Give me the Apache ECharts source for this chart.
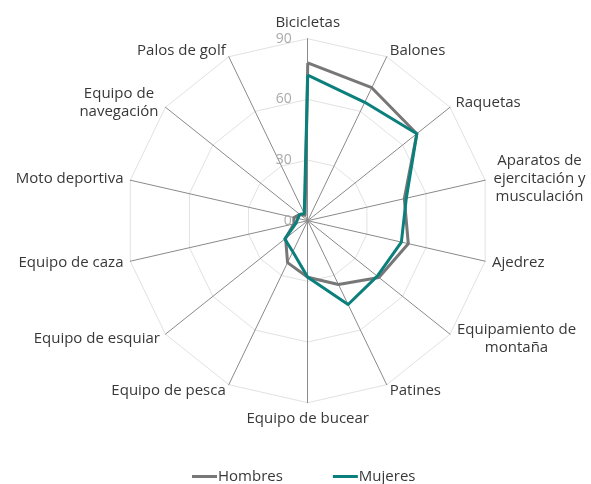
<!DOCTYPE html>
<html>
<head>
<meta charset="utf-8">
<script src="https://cdn.jsdelivr.net/npm/echarts@6/dist/echarts.min.js"></script>
<style>
  html, body { margin: 0; padding: 0; background: #ffffff; }
  #chart { width: 591px; height: 484px; }
</style>
</head>
<body>
<div id="chart"></div>
<script>
// Categories in clockwise order, starting at the top
const categories = [
  'Bicicletas',
  'Balones',
  'Raquetas',
  'Aparatos de\nejercitación y\nmusculación',
  'Ajedrez',
  'Equipamiento de\nmontaña',
  'Patines',
  'Equipo de bucear',
  'Equipo de pesca',
  'Equipo de esquiar',
  'Equipo de caza',
  'Moto deportiva',
  'Equipo de\nnavegación',
  'Palos de golf'
];
const hombres = [78, 73, 69, 49, 51, 45, 35, 28, 23, 14, 7, 7, 5, 3];
const mujeres = [72, 65, 69, 50, 47.5, 44, 46, 28, 17, 14.5, 6, 5, 5, 4];
const seriesNames = ['Hombres', 'Mujeres'];
const scaleMax = 90;
const scaleStep = 30;

const FONT = '"Open Sans", sans-serif';
const LABEL_SIZE = 15;
const CENTER = ['52.07%', '45.6%'];
const RADIUS = 182;

// Radar indicators run counter-clockwise, so reverse everything after the first item
const order = [0].concat(categories.slice(1).map((_, i) => categories.length - 1 - i));
const ordered = arr => order.map(i => arr[i]);

// Multi-line names get a fixed-width rich box so their lines centre on each other
const ctx = document.createElement('canvas').getContext('2d');
ctx.font = LABEL_SIZE + 'px ' + FONT;
const rich = {};
const nameKey = {};
categories.forEach((name, i) => {
  if (name.indexOf('\n') >= 0) {
    const w = Math.max(...name.split('\n').map(s => ctx.measureText(s).width));
    const key = 'm' + i;
    rich[key] = { width: Math.ceil(w) + 2, align: 'center', fontSize: LABEL_SIZE, lineHeight: 18, color: '#383838', fontFamily: FONT };
    nameKey[name] = key;
  }
});

const option = {
  animation: false,
  backgroundColor: '#ffffff',
  textStyle: { fontFamily: FONT },
  legend: {
    data: seriesNames,
    left: 187,
    top: 464,
    icon: 'rect',
    itemWidth: 25,
    itemHeight: 3,
    itemGap: 50,
    textStyle: { color: '#383838', fontSize: 15, fontFamily: FONT, padding: [0, 0, 0, -4] }
  },
  radar: {
    center: CENTER,
    radius: RADIUS,
    startAngle: 90,
    shape: 'polygon',
    splitNumber: scaleMax / scaleStep,
    indicator: ordered(categories).map(name => ({ name: name, min: 0, max: scaleMax })),
    axisName: {
      color: '#383838',
      fontSize: LABEL_SIZE,
      fontFamily: FONT,
      lineHeight: 18,
      rich: rich,
      formatter: function (name) {
        const key = nameKey[name];
        if (!key) return name;
        return name.split('\n').map(s => '{' + key + '|' + s + '}').join('\n');
      }
    },
    nameGap: 7,
    axisLine: { lineStyle: { color: '#8a8a8a', width: 1 } },
    splitLine: { lineStyle: { color: '#e2e2e2', width: 1 } },
    splitArea: { show: false },
    axisTick: { show: false },
    axisLabel: { show: false }
  },
  // Polar axis overlay only carries the scale labels along the top spoke
  polar: { center: CENTER, radius: RADIUS },
  angleAxis: { type: 'value', min: 0, max: 360, startAngle: 90, show: false },
  radiusAxis: {
    type: 'value',
    min: 0,
    max: scaleMax,
    interval: scaleStep,
    axisLine: { show: false },
    axisTick: { show: false },
    splitLine: { show: false },
    axisLabel: { color: '#aaaaaa', fontSize: 14, fontFamily: FONT, margin: 16 }
  },
  series: [{
    type: 'radar',
    symbol: 'none',
    data: [
      {
        name: seriesNames[0],
        value: ordered(hombres),
        lineStyle: { color: '#777777', width: 3 },
        itemStyle: { color: '#777777' }
      },
      {
        name: seriesNames[1],
        value: ordered(mujeres),
        lineStyle: { color: '#0a7f7c', width: 3 },
        itemStyle: { color: '#0a7f7c' }
      }
    ]
  }]
};

const chart = echarts.init(document.getElementById('chart'), null, { renderer: 'canvas' });
chart.setOption(option);
</script>
</body>
</html>
